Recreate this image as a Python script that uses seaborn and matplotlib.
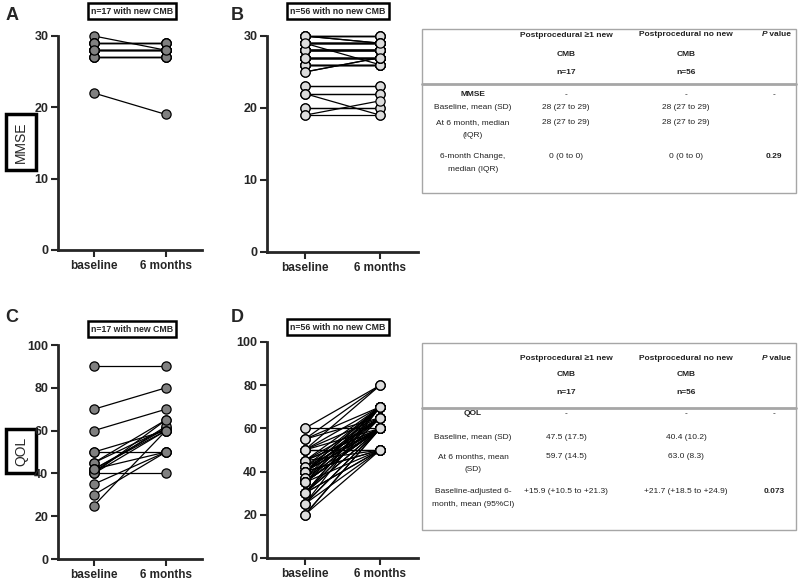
import numpy as np
import pandas as pd
import matplotlib
matplotlib.use('Agg')
import matplotlib.pyplot as plt
import seaborn as sns

sns.set_style('ticks')
plt.rcParams['font.family'] = ['Liberation Sans', 'DejaVu Sans']

timepoints = ['baseline', '6 months']

# A: MMSE, n=17 with new CMB
mmse_new_base = [30, 29, 29, 29, 28, 28, 28, 28, 28, 28, 27, 27, 27, 27, 29, 28, 22]
mmse_new_6mo = [28, 29, 29, 29, 28, 28, 28, 28, 28, 28, 27, 27, 27, 27, 29, 28, 19]

# B: MMSE, n=56 with no new CMB
mmse_none_base = [30, 30, 30, 30, 29, 29, 29, 29, 29, 29, 29, 28, 28, 28, 28, 28, 28, 28, 28, 28, 28,
                  27, 27, 27, 27, 27, 27, 27, 27, 26, 26, 26, 26, 26, 26, 25, 25, 30, 29, 28, 27, 29,
                  28, 30, 23, 23, 22, 22, 22, 20, 20, 19, 19, 28, 27, 29]
mmse_none_6mo = [30, 30, 29, 30, 29, 29, 29, 26, 29, 29, 29, 28, 28, 28, 28, 28, 28, 28, 28, 28, 28,
                 27, 27, 27, 27, 27, 27, 27, 27, 26, 26, 26, 26, 26, 26, 27, 27, 30, 29, 28, 27, 29,
                 28, 29, 23, 23, 22, 22, 19, 20, 20, 21, 19, 28, 27, 29]

# C: QOL, n=17 with new CMB
qol_new_base = [90, 70, 60, 50, 50, 45, 45, 42, 42, 41, 40, 40, 40, 35, 30, 25, 42]
qol_new_6mo = [90, 80, 70, 60, 50, 65, 61, 61, 60, 62, 40, 60, 65, 50, 50, 60, 50]

# D: QOL, n=56 with no new CMB
qol_none_base = [60, 60, 55, 55, 55, 50, 50, 50, 50, 50, 50, 45, 45, 45, 45, 45, 42, 42, 42,
                 40, 40, 40, 40, 40, 40, 40, 40, 40, 40, 37, 37, 37, 35, 35, 35, 35, 35, 35, 35,
                 35, 35, 30, 30, 30, 30, 30, 30, 30, 30, 25, 25, 25, 25, 20, 20, 20]
qol_none_6mo = [80, 60, 70, 65, 80, 50, 80, 70, 60, 65, 50, 70, 65, 60, 50, 60, 70, 60, 65,
                70, 60, 60, 50, 65, 70, 60, 65, 50, 65, 70, 60, 65, 70, 60, 60, 50, 65, 60, 70,
                60, 60, 65, 60, 50, 70, 60, 70, 65, 50, 60, 70, 50, 60, 50, 60, 60]

group_titles = ['n=17 with new CMB', 'n=56 with no new CMB']

mmse_rows = [['MMSE', '-', '-', '-'],
             ['Baseline, mean (SD)', '28 (27 to 29)', '28 (27 to 29)', ''],
             ['At 6 month, median\n(IQR)', '28 (27 to 29)', '28 (27 to 29)', ''],
             ['6-month Change,\nmedian (IQR)', '0 (0 to 0)', '0 (0 to 0)', '0.29']]
qol_rows = [['QOL', '-', '-', '-'],
            ['Baseline, mean (SD)', '47.5 (17.5)', '40.4 (10.2)', ''],
            ['At 6 months, mean\n(SD)', '59.7 (14.5)', '63.0 (8.3)', ''],
            ['Baseline-adjusted 6-\nmonth, mean (95%CI)', '+15.9 (+10.5 to +21.3)', '+21.7 (+18.5 to +24.9)', '0.073']]

W, H = 800, 582
fig = plt.figure(figsize=(8, 5.82), dpi=100)

ov = fig.add_axes([0, 0, 1, 1])
ov.set_xlim(0, W)
ov.set_ylim(H, 0)
ov.axis('off')


def px_axes(left, top, right, bottom):
    return fig.add_axes([left / W, 1 - bottom / H, (right - left) / W, (bottom - top) / H])


def paired(ax, base, six, face, ymax, step):
    n = len(base)
    df = pd.DataFrame({'subject': list(range(n)) * 2,
                       'time': [timepoints[0]] * n + [timepoints[1]] * n,
                       'score': list(base) + list(six)})
    sns.lineplot(data=df, x='time', y='score', units='subject', estimator=None,
                 color='black', lw=0.9, ax=ax, clip_on=False, sort=False)
    sns.scatterplot(data=df, x='time', y='score', color=face, edgecolor='black',
                    linewidth=0.9, s=44, ax=ax, zorder=3, clip_on=False, legend=False)
    ax.set_xlim(-0.5, 1.5)
    ax.set_ylim(0, ymax)
    ax.set_yticks(range(0, ymax + 1, step))
    ax.set_xlabel('')
    ax.set_ylabel('')
    sns.despine(ax=ax)
    for s in ['left', 'bottom']:
        ax.spines[s].set_linewidth(2)
    ax.tick_params(width=1.5, length=5, pad=2)
    ax.tick_params(axis='y', labelsize=9)
    ax.tick_params(axis='x', labelsize=8.5)
    for lab in ax.get_xticklabels() + ax.get_yticklabels():
        lab.set_fontweight('bold')


axA = px_axes(58, 36, 202, 250)
paired(axA, mmse_new_base, mmse_new_6mo, '#808080', 30, 10)
axB = px_axes(267, 36, 418, 252)
paired(axB, mmse_none_base, mmse_none_6mo, '#dcdcdc', 30, 10)
axC = px_axes(58, 345, 202, 559)
paired(axC, qol_new_base, qol_new_6mo, '#808080', 100, 20)
axD = px_axes(267, 342, 418, 558)
paired(axD, qol_none_base, qol_none_6mo, '#dcdcdc', 100, 20)

# panel letters
for letter, x, y in [('A', 12, 15), ('B', 237, 15), ('C', 12, 318), ('D', 237, 318)]:
    ov.text(x, y, letter, fontsize=13, fontweight='bold', ha='center', va='center')

# group title boxes
box = dict(boxstyle='square,pad=0.35', fc='white', ec='black', lw=1.8)
for title, x, y in [(group_titles[0], 132, 11), (group_titles[1], 338, 11),
                    (group_titles[0], 132, 329), (group_titles[1], 338, 327)]:
    ov.text(x, y, title, fontsize=6.3, fontweight='bold', ha='center', va='center', bbox=box)

# y-axis label boxes
ybox = dict(boxstyle='square,pad=0.55', fc='white', ec='black', lw=2.5)
ov.text(21, 142, 'MMSE', fontsize=10, rotation=90, ha='center', va='center', bbox=ybox)
ov.text(21, 451, 'QOL', fontsize=10, rotation=90, ha='center', va='center', bbox=ybox)


def table(top, sep, bottom, head_ys, row_ys, rows):
    ov.add_patch(plt.Rectangle((422, top), 796 - 422, bottom - top, fill=False,
                               ec='#a6a6a6', lw=1))
    ov.plot([422, 796], [sep, sep], color='#a6a6a6', lw=2)
    col_x = [473, 566, 686, 774]
    tc = '#222222'
    for x, label in [(col_x[1], 'Postprocedural \u22651 new'), (col_x[2], 'Postprocedural no new')]:
        ov.text(x, head_ys[0], label, fontsize=6, fontweight='bold', ha='center', va='center', color=tc)
        ov.text(x, head_ys[1], 'CMB', fontsize=6, fontweight='bold', ha='center', va='center', color=tc)
    ov.text(col_x[1], head_ys[2], 'n=17', fontsize=6, fontweight='bold', ha='center', va='center', color=tc)
    ov.text(col_x[2], head_ys[2], 'n=56', fontsize=6, fontweight='bold', ha='center', va='center', color=tc)
    ov.text(col_x[3] - 7, head_ys[0], 'P', fontsize=6, fontweight='bold', fontstyle='italic',
            ha='right', va='center', color=tc)
    ov.text(col_x[3] - 7, head_ys[0], ' value', fontsize=6, fontweight='bold', ha='left', va='center', color=tc)
    for i, (row, y) in enumerate(zip(rows, row_ys)):
        for j, cell in enumerate(row):
            bold = (i == 0 and j == 0) or (j == 3 and cell not in ('-', ''))
            ov.text(col_x[j], y, cell, fontsize=6, ha='center', va='top', color=tc,
                    fontweight='bold' if bold else 'normal', linespacing=2.2)


table(29, 84, 193, [35, 54, 72], [91, 104, 119, 153], mmse_rows)
table(343, 408, 530, [358, 374, 392], [410, 434, 453, 488], qol_rows)

fig.savefig('out.png', dpi=100)
